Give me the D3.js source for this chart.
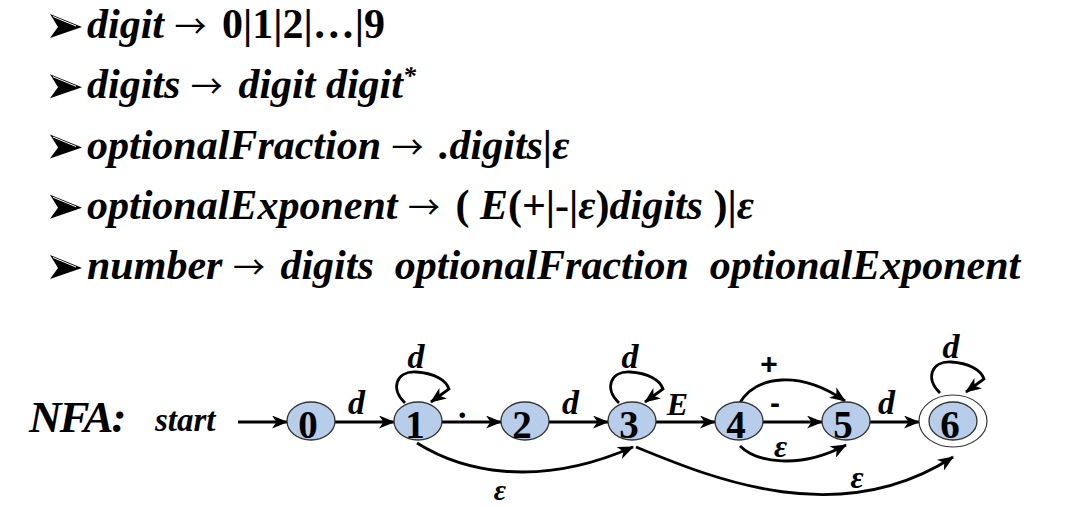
<!DOCTYPE html>
<html><head><meta charset="utf-8">
<script src="https://cdn.jsdelivr.net/npm/d3@7"></script>
<style>
html,body{margin:0;padding:0;background:#fff;}
svg{display:block;}
text{white-space:pre;}
</style></head>
<body>
<script>
// ---- data ----
const ruleHeads = ["digit", "digits", "optionalFraction", "optionalExponent", "number"];
const ruleBodies = [
  [["0|1|2|…|9", "n"]],
  [["digit digit", "i"], ["*", "sup"]],
  [[".digits|ε", "i"]],
  [["( ", "n"], ["E", "i"], ["(+|-|", "n"], ["ε", "i"], [")", "n"], ["digits", "i"], [" )|", "n"], ["ε", "i"]],
  [["digits  optionalFraction  optionalExponent", "i"]]
];
const states = [0, 1, 2, 3, 4, 5, 6];
const startState = 0;
const acceptStates = [6];
const edges = [
  {from: 0, to: 1, label: "d", kind: "straight"},
  {from: 1, to: 2, label: ".", kind: "straight"},
  {from: 2, to: 3, label: "d", kind: "straight"},
  {from: 3, to: 4, label: "E", kind: "straight"},
  {from: 4, to: 5, label: "-", kind: "straight"},
  {from: 5, to: 6, label: "d", kind: "straight"},
  {from: 1, to: 1, label: "d", kind: "loop"},
  {from: 3, to: 3, label: "d", kind: "loop"},
  {from: 6, to: 6, label: "d", kind: "loop"},
  {from: 4, to: 5, label: "+", kind: "over"},
  {from: 4, to: 5, label: "ε", kind: "under"},
  {from: 1, to: 3, label: "ε", kind: "skip"},
  {from: 3, to: 6, label: "ε", kind: "skipLong"}
];
const diagramTitle = "NFA:";
const startLabel = "start";

// ---- drawing ----
const W = 1072, H = 507;
const FONT = "'Liberation Serif', 'Times New Roman', serif";
const SANS = "'Liberation Sans', Arial, sans-serif";
const svg = d3.select("body").append("svg").attr("width", W).attr("height", H);
svg.append("rect").attr("width", W).attr("height", H).attr("fill", "#fff");

svg.append("defs").append("marker")
  .attr("id", "arr").attr("viewBox", "0 0 16 13").attr("refX", 15).attr("refY", 6.5)
  .attr("markerWidth", 16).attr("markerHeight", 13).attr("markerUnits", "userSpaceOnUse")
  .attr("orient", "auto")
  .append("path").attr("d", "M0,0 L16,6.5 L0,13 L4.5,6.5 Z").attr("fill", "#000");

// rules text
const lineY = d3.scaleLinear().domain([0, ruleHeads.length - 1]).range([38, 279]);
const rules = svg.append("g");
ruleHeads.forEach((head, i) => {
  const y = lineY(i);
  const b = rules.append("g").attr("transform", `translate(50,${y - 24})`);
  b.append("path").attr("d", "M0,0 L32,13 L0,24 L8,13 Z").attr("fill", "#000");
  b.append("path").attr("d", "M3,2.5 L26,12").attr("stroke", "#fff").attr("stroke-width", 1).attr("fill", "none");
  const t = rules.append("text").attr("x", 87).attr("y", y)
    .attr("font-family", FONT).attr("font-size", 42).attr("font-weight", "bold").attr("fill", "#000");
  t.append("tspan").attr("font-style", "italic").text(head + " ");
  t.append("tspan").attr("font-weight", "normal").attr("font-family", "'Noto Sans CJK SC', 'DejaVu Sans', sans-serif")
    .attr("font-size", 32).text("\u2192");
  t.append("tspan").attr("dx", 5).text(" ");
  ruleBodies[i].forEach(([s, st]) => {
    const sp = t.append("tspan").text(s);
    if (st === "i") sp.attr("font-style", "italic");
    if (st === "sup") sp.attr("font-style", "italic").attr("font-size", 26).attr("baseline-shift", "14");
  });
});

// NFA
const x = d3.scalePoint().domain(states).range([311, 953]);
const cy = 421, rx = 24, ry = 19, orx = 34, ory = 26;
const isAcc = s => acceptStates.includes(s);
const g = svg.append("g");

g.append("text").attr("x", 29).attr("y", 432).attr("font-family", FONT).attr("font-size", 45)
  .attr("font-weight", "bold").attr("font-style", "italic").attr("letter-spacing", -2).text(diagramTitle);
g.append("text").attr("x", 155).attr("y", 431).attr("font-family", FONT).attr("font-size", 33)
  .attr("font-weight", "bold").attr("font-style", "italic").text(startLabel);
g.append("line").attr("x1", 238).attr("x2", x(startState) - rx).attr("y1", cy + 1).attr("y2", cy + 1)
  .attr("stroke", "#000").attr("stroke-width", 2.8).attr("marker-end", "url(#arr)");

const lbl = (px, py, s, size, italic, fam) => g.append("text").attr("x", px).attr("y", py)
  .attr("text-anchor", "middle").attr("font-family", fam || FONT).attr("font-size", size)
  .attr("font-weight", "bold").attr("font-style", italic ? "italic" : "normal").text(s);

const halfW = s => isAcc(s) ? orx : rx;
edges.forEach(e => {
  const xa = x(e.from), xb = x(e.to);
  let d, lx, ly, size = 34, italic = true, fam = FONT;
  if (e.kind === "straight") {
    const x1 = xa + halfW(e.from), x2 = xb - halfW(e.to);
    d = `M${x1},${cy + 1} L${x2},${cy + 1}`;
    lx = (x1 + x2) / 2 - 8; ly = cy - 7;
    if (e.label === ".") { ly = cy - 3; }
    if (e.label === "-") { italic = false; fam = SANS; lx = x1 + 12; ly = cy - 8; size = 30; }
    if (e.label === "E") { size = 32; ly = cy - 6; }
  } else if (e.kind === "loop") {
    const l = isAcc(e.from) ? 10 : 0;
    d = `M${xa - 13},${cy - 18 - l} C${xa - 28},${cy - 32 - l} ${xa - 22},${cy - 50 - l} ${xa - 2},${cy - 49 - l}` +
        ` C${xa + 16},${cy - 48 - l} ${xa + 28},${cy - 41 - l} ${xa + 31},${cy - 32 - l} L${xa + 13},${cy - 19 - l}`;
    lx = xa - 2; ly = cy - 53 - l;
  } else if (e.kind === "over") {
    d = `M${xa},${cy - 17} C${xa + 17},${cy - 46} ${xb - 46},${cy - 51} ${xb - 1},${cy - 20}`;
    lx = xa + 30; ly = cy - 47; italic = false; size = 30; fam = SANS;
  } else if (e.kind === "under") {
    d = `M${xa + 1},${cy + 25} C${xa + 17},${cy + 41} ${xb - 47},${cy + 49} ${xb},${cy + 24}`;
    lx = (xa + xb) / 2 - 12; ly = cy + 36; size = 32;
  } else if (e.kind === "skip") {
    d = `M${xa - 1},${cy + 22} C${xa + 42},${cy + 49} ${xb - 97},${cy + 69} ${xb + 1},${cy + 26}`;
    lx = xa + 82; ly = cy + 79; size = 30;
  } else {
    d = `M${xa + 4},${cy + 26} C${xa + 84},${cy + 59} ${xb - 113},${cy + 109} ${xb},${cy + 36}`;
    lx = xb - 96; ly = cy + 67; size = 32;
  }
  g.append("path").attr("d", d).attr("fill", "none").attr("stroke", "#000")
    .attr("stroke-width", 2.8).attr("marker-end", "url(#arr)");
  lbl(lx, ly, e.label, size, italic, fam);
});

const nodes = g.selectAll("g.node").data(states).join("g").attr("class", "node")
  .attr("transform", s => `translate(${x(s)},${cy})`);
nodes.filter(isAcc).append("ellipse").attr("rx", orx).attr("ry", ory)
  .attr("fill", "#fff").attr("stroke", "#333").attr("stroke-width", 1.2);
nodes.append("ellipse").attr("rx", rx).attr("ry", ry)
  .attr("fill", "#b7cde9").attr("stroke", "#333").attr("stroke-width", 1.3);
nodes.append("text").attr("x", -3).attr("y", 17).attr("text-anchor", "middle")
  .attr("font-family", FONT).attr("font-size", 39).attr("font-weight", "bold").text(s => s);
</script>
</body></html>
